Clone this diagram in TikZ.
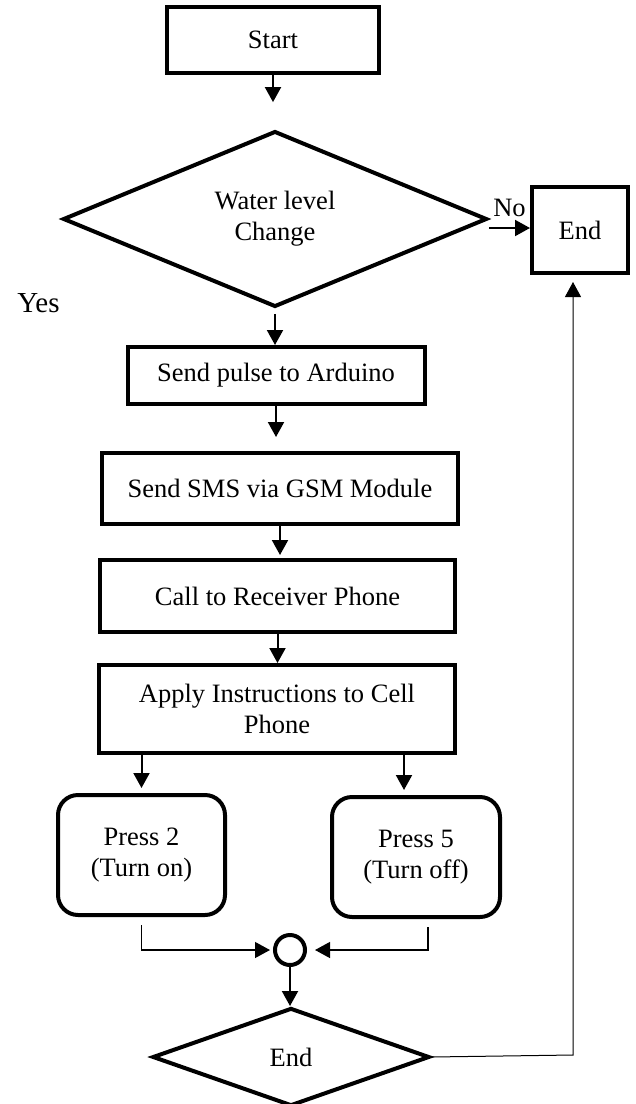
\documentclass[tikz,border=0pt]{standalone}
\usepackage{fontspec}
\setmainfont{Liberation Serif}
\usetikzlibrary{shapes.geometric, arrows.meta}

\begin{document}
\begin{tikzpicture}[x=.5pt, y=-.5pt,
	font=\fontsize{13.25}{15.5}\selectfont,
	box/.style={draw, line width=2pt, inner sep=0pt, align=center},
	roundbox/.style={box, rounded corners=10pt},
	decision/.style={draw, diamond, line width=2pt, inner sep=0pt, align=center},
	arr/.style={-{Triangle[width=8pt,length=7.5pt]}, line width=1pt},
	link/.style={arr, line width=.65pt}]
	\useasboundingbox (0,0) rectangle (636,1104);
	% boxes
	\node[box, minimum width=106pt, minimum height=33pt]        (start)  at (273,40)    {Start};
	\node[decision, minimum width=212pt, minimum height=84pt]   (level)  at (275,219)   {Water level\\Change};
	\node[box, minimum width=48pt, minimum height=43pt]         (stop)   at (580,230)   {End};
	\node[font=\fontsize{14.5}{17}\selectfont]                  (yes)    at (38.5,303)  {Yes};
	\node[box, minimum width=148.5pt, minimum height=28.5pt]    (pulse)  at (276,375.5) {Send pulse to Arduino};
	\node[box, minimum width=178pt, minimum height=35.5pt]      (sms)    at (280,488.5) {Send SMS via GSM Module};
	\node[box, minimum width=177.5pt, minimum height=36pt]      (call)   at (277.5,596) {Call to Receiver Phone};
	\node[box, minimum width=178pt, minimum height=44pt]        (apply)  at (277,709)   {Apply Instructions to Cell\\Phone};
	\node[roundbox, minimum width=83.5pt, minimum height=60pt]  (press2) at (141.5,855) {Press 2\\(Turn on)};
	\node[roundbox, minimum width=84pt, minimum height=60pt]    (press5) at (416,857)   {Press 5\\(Turn off)};
	\node[draw, circle, line width=2pt, minimum size=15pt, inner sep=0pt] (join) at (290,950) {};
	\node[decision, minimum width=138.5pt, minimum height=49pt] (finish) at (291,1057)  {End};
	\coordinate (corner) at (573,1055);
	% arrows
	\draw[arr, shorten >=13.5pt] (start) -- (start |- level.north);
	\draw[arr] ([yshift=-4.5pt]level.east) -- ([yshift=-4.5pt]level.east -| stop.west) node[midway, above, inner sep=5pt] (no) {No};
	\draw[arr, shorten <=2.5pt]  (level.south) -- (level.south |- pulse.north);
	\draw[arr, shorten >=7pt]    (pulse) -- (pulse |- sms.north);
	\draw[arr, shorten >=1.5pt]  (sms) -- (sms |- call.north);
	\draw[arr]                   (call) -- (call |- apply.north);
	\draw[arr, shorten >=2.5pt]  (apply.south -| press2) -- (press2);
	\draw[arr, shorten >=2.5pt]  ([xshift=-6pt]press5.north |- apply.south) -- ([xshift=-6pt]press5.north);
	\draw[link, shorten >=1.5pt] ([yshift=-4pt]press2.south) |- (join);
	\draw[link, shorten >=4pt]   ([xshift=6pt, yshift=-4pt]press5.south) |- (join);
	\draw[arr]                   (join) -- (join |- finish.north);
	\draw[link, line width=.5pt, shorten >=3.5pt] (finish.east) -- (corner) -- (corner |- stop.south);
\end{tikzpicture}
\end{document}
